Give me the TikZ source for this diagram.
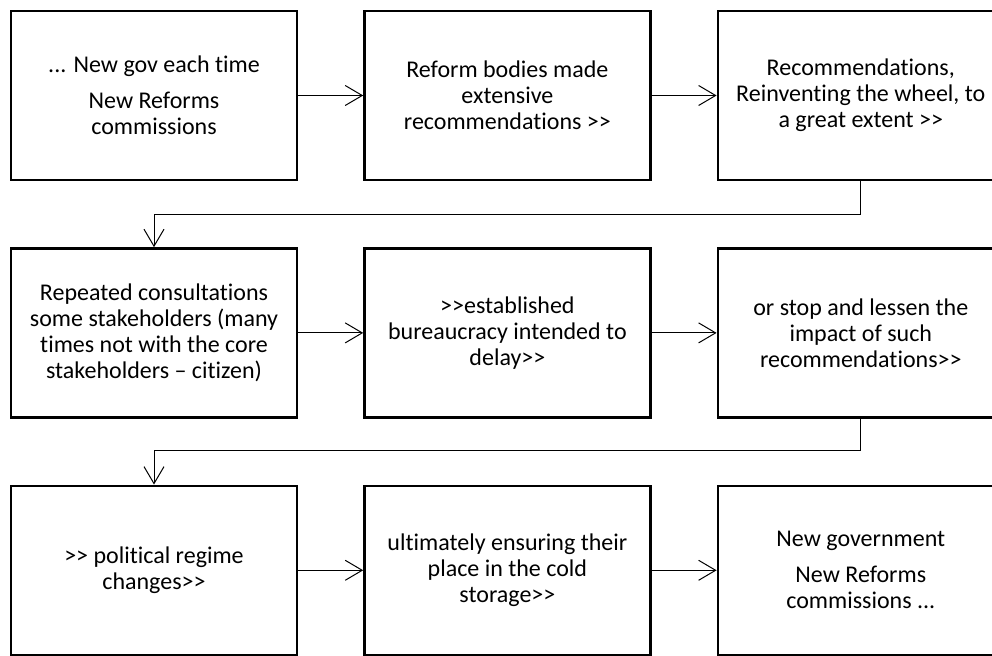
\documentclass[tikz,border=0pt]{standalone}
\usepackage{fontspec}
\setmainfont{Carlito}[Ligatures=NoCommon]
\usepackage{tikz}
\usetikzlibrary{arrows.meta,positioning}

\begin{document}
\begin{tikzpicture}[x=0.5pt,y=-0.5pt,
  stage/.style={draw,line width=1.2pt,minimum width=143pt,minimum height=84.5pt,align=center,
    font=\fontsize{12}{13}\selectfont},
  arrow/.style={-{Straight Barb[length=8.5pt,width=10pt]},line width=0.5pt}
]
\useasboundingbox (0,0) rectangle (992,656);
\clip (0,0) rectangle (992,656);
% first row
\node[stage] (gov) at (154,95.5) {... New gov each time\\[5pt]New Reforms\\commissions};
\node[stage,right=32.5pt of gov] (bodies) {Reform bodies made\\extensive\\recommendations >{}>};
\node[stage,right=32.5pt of bodies] (recs) {Recommendations,\\Reinventing the wheel, to\\a great extent >{}>};
% second row
\node[stage,below=33pt of gov] (consult) {Repeated consultations\\some stakeholders (many\\times not with the core\\stakeholders – citizen)};
\node[stage,right=32.5pt of consult] (bureau) {>{}>established\\bureaucracy intended to\\delay>{}>};
\node[stage,right=32.5pt of bureau] (lessen) {or stop and lessen the\\impact of such\\recommendations>{}>};
% third row
\node[stage,below=33pt of consult] (regime) {>{}> political regime\\changes>{}>};
\node[stage,right=32.5pt of regime] (storage) {ultimately ensuring their\\place in the cold\\storage>{}>};
\node[stage,right=32.5pt of storage] (newgov) {New government\\[5pt]New Reforms\\commissions ...};
\draw[arrow] (gov) -- (bodies);
\draw[arrow] (bodies) -- (recs);
\draw[arrow] (recs.south) -- ++(0,33) -| (consult.north);
\draw[arrow] (consult) -- (bureau);
\draw[arrow] (bureau) -- (lessen);
\draw[arrow] (lessen.south) -- ++(0,32) -| (regime.north);
\draw[arrow] (regime) -- (storage);
\draw[arrow] (storage) -- (newgov);
\end{tikzpicture}
\end{document}
